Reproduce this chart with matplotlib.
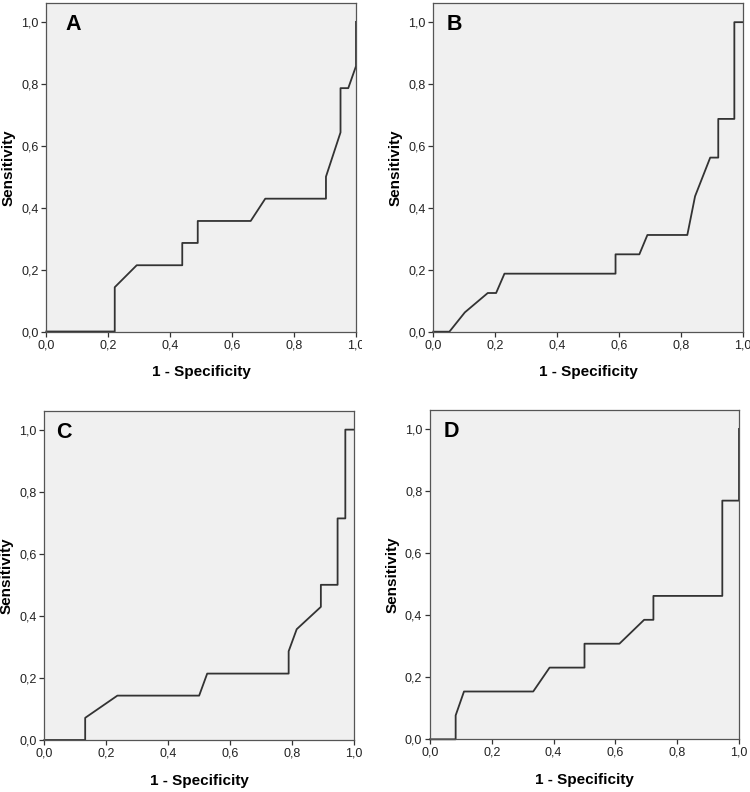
import matplotlib
matplotlib.use("Agg")
import matplotlib.pyplot as plt
from matplotlib.transforms import Bbox

plt.rcParams['font.family'] = ['Liberation Sans', 'DejaVu Sans']

# ROC curves (1 - specificity, sensitivity)
fpr_a = [0, 0.221, 0.221, 0.292, 0.439, 0.439, 0.489, 0.489, 0.660, 0.707, 0.903, 0.903, 0.950, 0.950, 0.975, 1.0, 1.0]
tpr_a = [0, 0, 0.143, 0.214, 0.214, 0.286, 0.286, 0.357, 0.357, 0.429, 0.429, 0.500, 0.643, 0.786, 0.786, 0.857, 1.0]

fpr_b = [0, 0.052, 0.102, 0.176, 0.203, 0.230, 0.589, 0.589, 0.666, 0.692, 0.821, 0.846, 0.895, 0.921, 0.921, 0.973, 0.973, 1.0]
tpr_b = [0, 0, 0.0625, 0.125, 0.125, 0.1875, 0.1875, 0.25, 0.25, 0.3125, 0.3125, 0.4375, 0.5625, 0.5625, 0.6875, 0.6875, 1.0, 1.0]

fpr_c = [0, 0.132, 0.132, 0.236, 0.500, 0.526, 0.789, 0.789, 0.815, 0.893, 0.893, 0.947, 0.947, 0.972, 0.972, 1.0]
tpr_c = [0, 0, 0.0714, 0.143, 0.143, 0.214, 0.214, 0.286, 0.357, 0.429, 0.500, 0.500, 0.714, 0.714, 1.0, 1.0]

fpr_d = [0, 0.083, 0.083, 0.110, 0.334, 0.387, 0.500, 0.500, 0.613, 0.693, 0.723, 0.723, 0.946, 0.946, 1.0, 1.0]
tpr_d = [0, 0, 0.0769, 0.154, 0.154, 0.231, 0.231, 0.308, 0.308, 0.385, 0.385, 0.462, 0.462, 0.769, 0.769, 1.0]

letters = ["A", "B", "C", "D"]
ticks = [0.0, 0.2, 0.4, 0.6, 0.8, 1.0]
tick_labels = ["0,0", "0,2", "0,4", "0,6", "0,8", "1,0"]

W, H = 750, 792
# axes boxes in pixels: left, top, right, bottom
boxes = [(46.3, 3.0, 356.0, 331.5),
         (433.3, 3.3, 742.7, 331.7),
         (44.3, 410.7, 354.0, 740.0),
         (430.0, 410.0, 739.0, 739.3)]
letter_dx = [19, 13, 12, 14]
curves = [(fpr_a, tpr_a), (fpr_b, tpr_b), (fpr_c, tpr_c), (fpr_d, tpr_d)]

fig = plt.figure(figsize=(W / 100, H / 100), dpi=100)

for i, (l, t, r, b) in enumerate(boxes):
    ax = fig.add_axes([l / W, (H - b) / H, (r - l) / W, (b - t) / H])
    ax.set_facecolor("#f0f0f0")
    ax.set_xlim(0, 1)
    ax.set_ylim(0, 1.061)
    fx, ty = curves[i]
    ax.plot(fx, ty, color="#333333", lw=1.3, clip_on=False)

    ax.set_xticks(ticks)
    ax.set_xticklabels(tick_labels)
    ax.set_yticks(ticks)
    ax.set_yticklabels(tick_labels)
    ax.tick_params(direction="out", length=3.5, width=0.9, color="#333333",
                   labelsize=9, labelcolor="#222222", pad=2)
    for s in ax.spines.values():
        s.set_color("#555555")
        s.set_linewidth(0.9)

    ax.set_xlabel("1 - Specificity", fontsize=11, fontweight="bold", va="center")
    ax.set_ylabel("Sensitivity", fontsize=11, fontweight="bold", va="center")
    ax.xaxis.set_label_coords(0.5, -40.5 / (b - t))
    ax.yaxis.set_label_coords(-37.8 / (r - l), 0.5)

    ax.text(letter_dx[i] / (r - l), 1 - 11 / (b - t), letters[i], transform=ax.transAxes,
            fontsize=15.5, fontweight="bold", va="top", ha="left")

    # the left-hand panels were cropped just past the last tick label
    if i in (0, 2):
        lab = ax.get_xticklabels()[-1]
        lab.set_clip_box(Bbox.from_extents(0, 0, 361.5, H))
        lab.set_clip_on(True)

fig.savefig("out.png", dpi=100)
